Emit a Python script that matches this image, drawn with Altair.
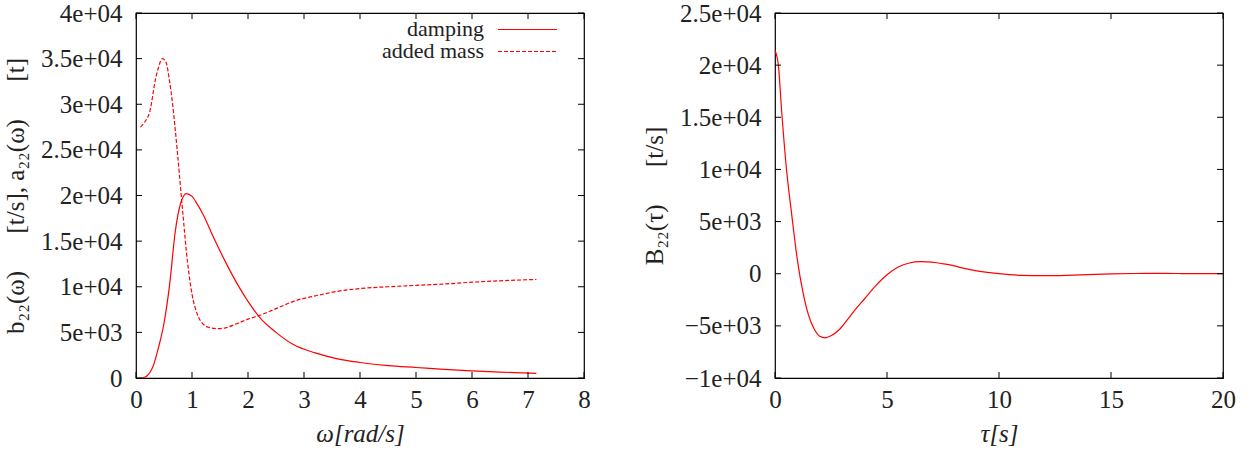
import altair as alt
import pandas as pd

# ---- left panel data ----
w_damp = [0.08, 0.15, 0.2, 0.3, 0.4, 0.5, 0.6, 0.7, 0.8, 0.9, 1.0, 1.1, 1.2, 1.4, 1.6, 1.8, 2.0, 2.2,
          2.5, 2.8, 3.2, 3.6, 4.0, 4.5, 5.0, 5.5, 6.0, 6.5, 7.15]
b22 = [0, 80, 250, 1200, 3300, 6000, 10200, 16000, 19200, 20200, 19900, 19000, 17900, 15200, 12700,
       10400, 8400, 6700, 5000, 3700, 2750, 2100, 1700, 1350, 1150, 950, 780, 640, 500]

w_mass = [0.08, 0.15, 0.25, 0.35, 0.4, 0.47, 0.53, 0.6, 0.65, 0.74, 0.83, 0.92, 1.0, 1.1, 1.2, 1.3,
          1.45, 1.6, 1.8, 2.0, 2.2, 2.5, 2.86, 3.2, 3.6, 4.0, 4.5, 5.0, 5.5, 6.0, 6.5, 7.15]
a22 = [27500, 28000, 29300, 32800, 34000, 35000, 34700, 32500, 30200, 24700, 18500, 12700, 9200,
       6900, 5900, 5550, 5400, 5500, 5950, 6450, 6850, 7600, 8500, 9000, 9500, 9800, 10000, 10150,
       10300, 10500, 10650, 10800]

# ---- right panel data ----
tau = [0, 0.15, 0.3, 0.5, 0.75, 1.0, 1.25, 1.5, 1.75, 2.0, 2.25, 2.5, 2.85, 3.2, 3.6, 4.0, 4.5, 5.0,
       5.5, 6.0, 6.5, 7.0, 7.5, 8.0, 8.5, 9.0, 10.0, 11.0, 12.0, 13.0, 14.0, 15.0, 16.0, 17.0, 18.0,
       19.0, 20.0]
B22 = [21400, 20000, 15500, 10300, 5600, 1300, -1800, -4000, -5300, -6000, -6150, -5950, -5400,
       -4500, -3400, -2400, -1150, -100, 650, 1030, 1150, 1120, 950, 750, 480, 280, 0, -150, -180,
       -150, -80, -20, 20, 30, 20, 0, 0]

left_xticks = [0, 1, 2, 3, 4, 5, 6, 7, 8]
left_yticks = [0, 5000, 10000, 15000, 20000, 25000, 30000, 35000, 40000]
right_xticks = [0, 5, 10, 15, 20]
right_yticks = [-10000, -5000, 0, 5000, 10000, 15000, 20000, 25000]

legend_labels = ["damping", "added mass"]

W, H = 448, 365
FONT = "Liberation Serif"
TFS = 25
LFS = 25
LEGFS = 22
TXT = "#222222"
RED = "#ff0000"
TICK = 6

ylab_expr = "datum.value == 0 ? '0' : replace(format(datum.value, '.2~e'), 'e+', 'e+0')"

axis_style = dict(grid=False, domain=False, ticks=False, labelFont=FONT, labelFontSize=LFS,
                  labelColor=TXT, titleFont=FONT, titleFontSize=TFS, titleFontWeight="normal",
                  titleColor=TXT, labelFlush=False)


def tick_layers(xs, ys, xscale, yscale, xaxis, yaxis):
    dx = pd.DataFrame({"x": xs})
    dy = pd.DataFrame({"y": ys})
    base_x = alt.Chart(dx).mark_rule(color="black", strokeWidth=1)
    base_y = alt.Chart(dy).mark_rule(color="black", strokeWidth=1)
    xenc = alt.X("x:Q", scale=xscale, axis=xaxis)
    yenc = alt.Y("y:Q", scale=yscale, axis=yaxis)
    return [
        base_x.encode(x=xenc, y=alt.value(0), y2=alt.value(TICK)),
        base_x.encode(x=xenc, y=alt.value(H), y2=alt.value(H - TICK)),
        base_y.encode(y=yenc, x=alt.value(0), x2=alt.value(TICK)),
        base_y.encode(y=yenc, x=alt.value(W), x2=alt.value(W - TICK)),
    ]


# ---------------- left panel ----------------
lx = alt.Scale(domain=[0, 8], nice=False, zero=False)
ly = alt.Scale(domain=[0, 40000], nice=False, zero=False)

df_damp = pd.DataFrame({"x": w_damp, "y": b22})
df_mass = pd.DataFrame({"x": w_mass, "y": a22})

GAP = "\u2003\u2002"
left_axis_x = alt.Axis(values=left_xticks, title="ω[rad/s]", titleFontStyle="italic",
                       labelPadding=9, titlePadding=9, **axis_style)
left_axis_y = alt.Axis(values=left_yticks, labelExpr=ylab_expr, labelPadding=14, titlePadding=12,
                       title=f"b₂₂(ω){GAP}[t/s], a₂₂(ω){GAP}[t]", **axis_style)

damp_line = alt.Chart(df_damp).mark_line(color=RED, strokeWidth=1.2, interpolate="monotone").encode(
    x=alt.X("x:Q", scale=lx, axis=left_axis_x),
    y=alt.Y("y:Q", scale=ly, axis=left_axis_y),
)
mass_line = alt.Chart(df_mass).mark_line(color=RED, strokeWidth=1.2, strokeDash=[4, 2],
                                         interpolate="monotone").encode(
    x=alt.X("x:Q", scale=lx, axis=left_axis_x),
    y=alt.Y("y:Q", scale=ly, axis=left_axis_y),
)

one = pd.DataFrame({"a": [0]})
leg_text1 = alt.Chart(one).mark_text(align="right", baseline="alphabetic", font=FONT, fontSize=LEGFS,
                                     color=TXT).encode(
    x=alt.value(348), y=alt.value(22.5), text=alt.value(legend_labels[0]))
leg_text2 = alt.Chart(one).mark_text(align="right", baseline="alphabetic", font=FONT, fontSize=LEGFS,
                                     color=TXT).encode(
    x=alt.value(348), y=alt.value(45), text=alt.value(legend_labels[1]))
leg_line1 = alt.Chart(one).mark_rule(color=RED, strokeWidth=1.2).encode(
    x=alt.value(362), x2=alt.value(421), y=alt.value(16.5))
leg_line2 = alt.Chart(one).mark_rule(color=RED, strokeWidth=1.2, strokeDash=[4, 2]).encode(
    x=alt.value(362), x2=alt.value(421), y=alt.value(38.5))

left = alt.layer(damp_line, mass_line,
                 *tick_layers(left_xticks, left_yticks, lx, ly, left_axis_x, left_axis_y),
                 leg_text1, leg_text2, leg_line1, leg_line2).properties(width=W, height=H)

# ---------------- right panel ----------------
rx = alt.Scale(domain=[0, 20], nice=False, zero=False)
ry = alt.Scale(domain=[-10000, 25000], nice=False, zero=False)
df_B = pd.DataFrame({"x": tau, "y": B22})

right_axis_x = alt.Axis(values=right_xticks, title="τ[s]", titleFontStyle="italic",
                        labelPadding=9, titlePadding=9, **axis_style)
right_axis_y = alt.Axis(values=right_yticks, labelExpr=ylab_expr, labelPadding=14, titlePadding=12,
                        title=f"B₂₂(τ){GAP}[t/s]", **axis_style)

right_line = alt.Chart(df_B).mark_line(color=RED, strokeWidth=1.2, interpolate="monotone").encode(
    x=alt.X("x:Q", scale=rx, axis=right_axis_x),
    y=alt.Y("y:Q", scale=ry, axis=right_axis_y),
)
right = alt.layer(right_line,
                  *tick_layers(right_xticks, right_yticks, rx, ry, right_axis_x, right_axis_y)
                  ).properties(width=W, height=H)

chart = alt.hconcat(left, right, spacing=50).resolve_scale(x="independent", y="independent").properties(
    padding={"left": 2, "top": 0, "right": 5, "bottom": 2}, background="white"
).configure_view(stroke="black", strokeWidth=1.2)

chart.save("out.html", embed_options={"renderer": "svg", "actions": False})
